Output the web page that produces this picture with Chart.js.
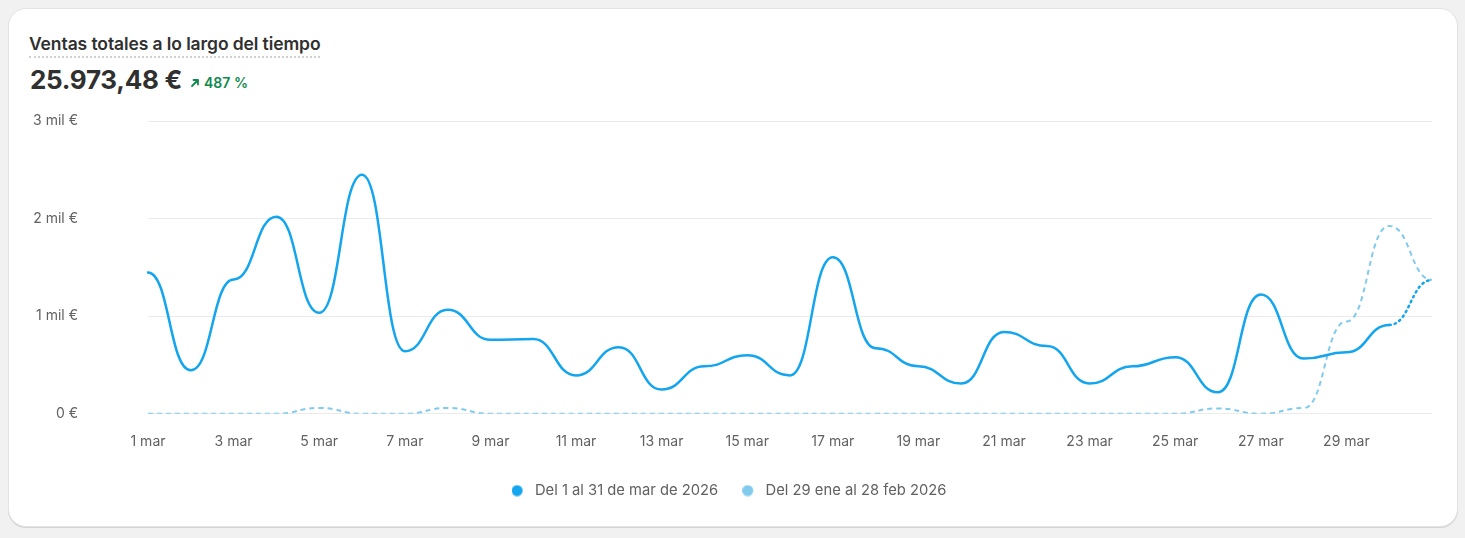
<!DOCTYPE html>
<html><head><meta charset="utf-8">
<script src="https://cdn.jsdelivr.net/npm/chart.js@4"></script>
<style>
html,body{margin:0;padding:0;background:#f1f1f1;font-family:Inter,"Noto Sans",sans-serif;}
.card{position:absolute;left:8px;top:8px;width:1448px;height:517px;background:#fff;border-radius:18px;border:1px solid #e3e3e3;box-shadow:0 1px 0 #d4d4d4;}
.title{position:absolute;left:20px;top:24px;font-size:17.5px;font-weight:600;color:#303030;padding-bottom:2px;border-bottom:2px dotted #cfcfcf;letter-spacing:-0.1px;}
.value{position:absolute;left:21px;top:55px;font-size:26px;font-weight:700;color:#303030;letter-spacing:-0.3px;}
.delta{position:absolute;left:181px;top:65px;font-size:14px;font-weight:600;color:#0f8a4e;display:flex;align-items:center;gap:4px;}
.wrap{position:absolute;left:19px;top:100px;width:1406px;height:399px;}
</style></head>
<body>
<div class="card">
  <div class="title">Ventas totales a lo largo del tiempo</div>
  <div class="value">25.973,48 €</div>
  <div class="delta"><svg width="10" height="10" viewBox="0 0 10 10"><path d="M2 8 L8 2 M3.5 2 H8 V6.5" stroke="#0f8a4e" stroke-width="1.8" fill="none" stroke-linecap="round" stroke-linejoin="round"/></svg><span>487 %</span></div>
  <div class="wrap"><canvas id="c"></canvas></div>
</div>
<script>
const categories = ["1 mar","2 mar","3 mar","4 mar","5 mar","6 mar","7 mar","8 mar","9 mar","10 mar","11 mar","12 mar","13 mar","14 mar","15 mar","16 mar","17 mar","18 mar","19 mar","20 mar","21 mar","22 mar","23 mar","24 mar","25 mar","26 mar","27 mar","28 mar","29 mar","30 mar","31 mar"];
const currentSales = [1448,445,1375,2020,1034,2450,641,1065,758,765,393,682,248,486,600,393,1603,672,486,310,838,693,310,486,580,220,1222,565,630,910,1370];
const previousSales = [0,0,0,0,60,0,0,60,0,0,0,0,0,0,0,0,0,0,0,0,0,0,0,0,0,55,0,58,945,1925,1372];
const currentLabel = "Del 1 al 31 de mar de 2026";
const previousLabel = "Del 29 ene al 28 feb 2026";
const yTickLabels = {0:"0 €",1000:"1 mil €",2000:"2 mil €",3000:"3 mil €"};
const currentColor = '#13a5ee';
const previousColor = '#80caec';

// Smooth "bump" curve: horizontal tangent at every point, control points half-way between neighbours.
const bumpCurve = {
  id: 'bumpCurve',
  beforeDatasetsDraw(chart) {
    chart.data.datasets.forEach((ds, i) => {
      const line = chart.getDatasetMeta(i).dataset;
      if (!line) return;
      line.updateControlPoints(chart.chartArea, 'x');
      const pts = line.points;
      for (let k = 0; k < pts.length; k++) {
        const p = pts[k], prev = pts[k - 1], next = pts[k + 1];
        if (prev) { p.cp1x = p.x - (p.x - prev.x) / 2; p.cp1y = p.y; } else { p.cp1x = p.x; p.cp1y = p.y; }
        if (next) { p.cp2x = p.x + (next.x - p.x) / 2; p.cp2y = p.y; } else { p.cp2x = p.x; p.cp2y = p.y; }
      }
    });
  }
};

// legend dot drawn on a wider canvas so the gap to the text matches
function legendDot(color) {
  const c = document.createElement('canvas');
  c.width = 18; c.height = 12;
  const g = c.getContext('2d');
  g.fillStyle = color;
  g.beginPath(); g.arc(5.5, 6, 5.5, 0, Math.PI * 2); g.fill();
  return c;
}

const tickColor = "#616161";
new Chart(document.getElementById('c'), {
  type: 'line',
  data: {
    labels: categories,
    datasets: [
      {label: currentLabel, data: currentSales, borderColor: currentColor, backgroundColor: currentColor,
       borderWidth: 2.5, pointRadius: 0, tension: 0.4, borderCapStyle:'round',
       segment: {borderDash: ctx => ctx.p1DataIndex === currentSales.length - 1 ? [1.5, 4] : undefined}},
      {label: previousLabel, data: previousSales, borderColor: previousColor, backgroundColor: previousColor,
       borderWidth: 2, pointRadius: 0, tension: 0.4, borderDash: [5, 4]}
    ]
  },
  plugins: [bumpCurve],
  options: {
    responsive: true, maintainAspectRatio: false, animation: false,
    layout: {padding: {top: 12, right: 2, bottom: 0, left: 0}},
    scales: {
      x: {
        grid: {display: false, drawTicks: false}, border: {display: false},
        ticks: {autoSkip: false, maxRotation: 0, padding: 20, color: tickColor,
          font: {family: 'Inter', size: 14},
          callback: function(v, i){ return (i % 2 === 0 && i < 30) ? categories[i] : ''; }},
        afterFit: s => { s.height = 43.5; s.paddingLeft = 0; s.paddingRight = 0; }
      },
      y: {
        min: 0, max: 3000,
        grid: {color: '#ebebeb', drawTicks: false, lineWidth: 1}, border: {display: false},
        ticks: {stepSize: 1000, padding: 70, color: tickColor, font: {family: 'Inter', size: 14},
          callback: v => yTickLabels[v] !== undefined ? yTickLabels[v] : ''},
        afterFit: s => { s.width = 120; s.paddingTop = 0; s.paddingBottom = 0; }
      }
    },
    plugins: {
      tooltip: {enabled: false},
      legend: {position: 'bottom',
        labels: {usePointStyle: true, boxWidth: 14, boxHeight: 8, padding: 26,
          color: tickColor, font: {family: 'Inter', size: 14.75},
          generateLabels: chart => Chart.defaults.plugins.legend.labels.generateLabels(chart).map(item => {
            item.pointStyle = legendDot(chart.data.datasets[item.datasetIndex].borderColor);
            item.lineDash = []; return item; })}}
    }
  }
});
</script>
</body></html>
